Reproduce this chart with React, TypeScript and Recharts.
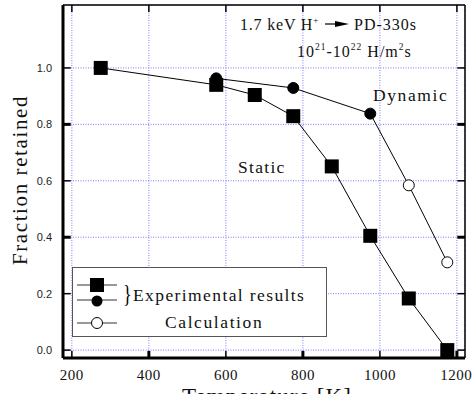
import { CartesianGrid, ComposedChart, Customized, Line, ReferenceLine, XAxis, YAxis } from "recharts";

// Static (squares)
const staticTemps = [275, 575, 675, 775, 875, 975, 1075, 1175];
const staticValues = [1.0, 0.94, 0.904, 0.829, 0.651, 0.405, 0.183, 0.0];

// Dynamic: experimental (filled circles) + calculation (open circles)
const dynamicTemps = [575, 775, 975];
const dynamicValues = [0.963, 0.929, 0.838];
const calcTemps = [1075, 1175];
const calcValues = [0.584, 0.311];

const xTicks = [200, 400, 600, 800, 1000, 1200];
const yTicks = [0, 0.2, 0.4, 0.6, 0.8, 1.0];

const xDomain = [177, 1221];
const yDomain = [-0.028, 1.223];

const staticData = staticTemps.map((t, i) => ({ t, v: staticValues[i] }));
const dynamicData = [
    ...dynamicTemps.map((t, i) => ({ t, v: dynamicValues[i], calc: false })),
    ...calcTemps.map((t, i) => ({ t, v: calcValues[i], calc: true })),
];

const serif = "Liberation Serif";
const sans = "Liberation Sans";

function SquareDot(props: any) {
    const { cx, cy } = props;
    return <rect key={`s${cx}`} x={cx - 7} y={cy - 7} width={14} height={14} fill="#000" />;
}

function CircleDot(props: any) {
    const { cx, cy, payload } = props;
    return (
        <circle
            key={`c${cx}`}
            cx={cx}
            cy={cy}
            r={5.5}
            fill={payload.calc ? "#fff" : "#000"}
            stroke="#000"
            strokeWidth={1}
        />
    );
}

const f = (size: number, extra: any = {}) => ({ fontFamily: serif, fontSize: size, ...extra });

function LegendBox() {
    return (
        <g transform="translate(72 267)">
            <rect x={0.5} y={0.5} width={254} height={69} fill="#fff" stroke="#555" />
            <line x1={5} x2={45} y1={18} y2={18} stroke="#333" />
            <rect x={18} y={11} width={14} height={14} fill="#000" />
            <line x1={5} x2={45} y1={33} y2={33} stroke="#333" />
            <circle cx={25} cy={34} r={5.5} fill="#000" />
            <line x1={5} x2={45} y1={56} y2={56} stroke="#333" />
            <circle cx={25} cy={56} r={5.5} fill="#fff" stroke="#000" />
            <text x={0} y={0} style={f(26)} fill="#000" transform="translate(51 35) scale(0.7 1)">{"}"}</text>
            <text x={61} y={34} style={f(17.5, { letterSpacing: 1.4 })} fill="#111">
                Experimental results
            </text>
            <text x={93} y={61} style={f(17.5, { letterSpacing: 1.6 })} fill="#111">
                Calculation
            </text>
        </g>
    );
}

function Annotations() {
    return (
        <g fill="#111">
            <LegendBox />
            <text x={240} y={30} style={f(16, { letterSpacing: 0.8 })}>
                1.7 keV H<tspan dy={-7} style={f(9)}>+</tspan>
            </text>
            <line x1={325} x2={337} y1={24} y2={24} stroke="#000" strokeWidth={1.2} />
            <polygon points="335,21 349,24 335,27" fill="#000" />
            <text x={354} y={30} style={f(16, { letterSpacing: 1 })}>PD-330s</text>
            <text x={297} y={57} style={f(16, { letterSpacing: 1 })}>
                10<tspan dy={-7} style={f(9.5)}>21</tspan>
                <tspan dy={7}>-10</tspan>
                <tspan dy={-7} style={f(9.5)}>22</tspan>
                <tspan dy={7}> H/m</tspan>
                <tspan dy={-7} style={f(9.5)}>2</tspan>
                <tspan dy={7}>s</tspan>
            </text>
            <text x={373} y={101} style={f(17.5, { letterSpacing: 1.6 })}>Dynamic</text>
            <text x={238} y={173} style={f(17.5, { letterSpacing: 1.3 })}>Static</text>
            <text
                x={20}
                y={180}
                style={f(21, { letterSpacing: 1.6 })}
                textAnchor="middle"
                transform="rotate(-90 20 180)"
                dominantBaseline="central"
            >
                Fraction retained
            </text>
            <text x={267} y={404} style={f(23, { letterSpacing: 1.1 })} textAnchor="middle">Temperature [K]</text>
        </g>
    );
}

export default function App() {
    const [x0, x1] = xDomain;
    const [y0, y1] = yDomain;
    const ax = { xAxisId: "b", yAxisId: "l" };
    return (
        <div style={{ position: "absolute", left: 0, top: 0 }}>
            <ComposedChart width={474} height={410} margin={{ top: 5, right: 9, left: 23, bottom: 22 }}>
                <CartesianGrid {...ax} stroke="#7a7aff" strokeDasharray="1 1.5" strokeWidth={1} />
                <XAxis
                    xAxisId="b"
                    type="number"
                    dataKey="t"
                    domain={xDomain}
                    ticks={xTicks}
                    allowDataOverflow
                    height={30}
                    axisLine={{ stroke: "#000", strokeWidth: 3 }}
                    tickLine={false}
                    tickSize={8}
                    tickMargin={3}
                    tick={{ style: { fontFamily: serif, fontSize: 15, letterSpacing: 0.5 }, fill: "#111" }}
                />
                <YAxis
                    yAxisId="l"
                    type="number"
                    domain={yDomain}
                    ticks={yTicks}
                    allowDataOverflow
                    width={40}
                    axisLine={{ stroke: "#000", strokeWidth: 3 }}
                    tickLine={false}
                    tickSize={8}
                    tickMargin={3}
                    tickFormatter={(v: number) => v.toFixed(1)}
                    tick={{ style: { fontFamily: sans, fontSize: 11 }, fill: "#222" }}
                />
                {/* frame */}
                <ReferenceLine {...ax} y={y1} stroke="#000" strokeWidth={1.5} />
                <ReferenceLine {...ax} x={x1} stroke="#000" strokeWidth={1.5} />
                {/* inward ticks */}
                {xTicks.map((t) => (
                    <ReferenceLine key={`tt${t}`} {...ax} segment={[{ x: t, y: y1 }, { x: t, y: y1 - 0.025 }]} stroke="#000" strokeWidth={1.5} />
                ))}
                {xTicks.map((t) => (
                    <ReferenceLine key={`bt${t}`} {...ax} segment={[{ x: t, y: y0 }, { x: t, y: y0 + 0.025 }]} stroke="#000" strokeWidth={t % 400 === 0 ? 3 : 1.5} />
                ))}
                {yTicks.map((t) => (
                    <ReferenceLine key={`lt${t}`} {...ax} segment={[{ x: x0, y: t }, { x: x0 + 20, y: t }]} stroke="#000" strokeWidth={t === 0.4 || t === 0.8 ? 3 : 1.5} />
                ))}
                {yTicks.map((t) => (
                    <ReferenceLine key={`rt${t}`} {...ax} segment={[{ x: x1, y: t }, { x: x1 - 20, y: t }]} stroke="#000" strokeWidth={t === 0.4 || t === 0.8 ? 3 : 1.5} />
                ))}
                <Line
                    {...ax}
                    data={staticData}
                    dataKey="v"
                    stroke="#000"
                    strokeWidth={1}
                    dot={SquareDot}
                    isAnimationActive={false}
                />
                <Line
                    {...ax}
                    data={dynamicData}
                    dataKey="v"
                    stroke="#000"
                    strokeWidth={1}
                    dot={CircleDot}
                    isAnimationActive={false}
                />
                <Customized component={Annotations} />
            </ComposedChart>
        </div>
    );
}
